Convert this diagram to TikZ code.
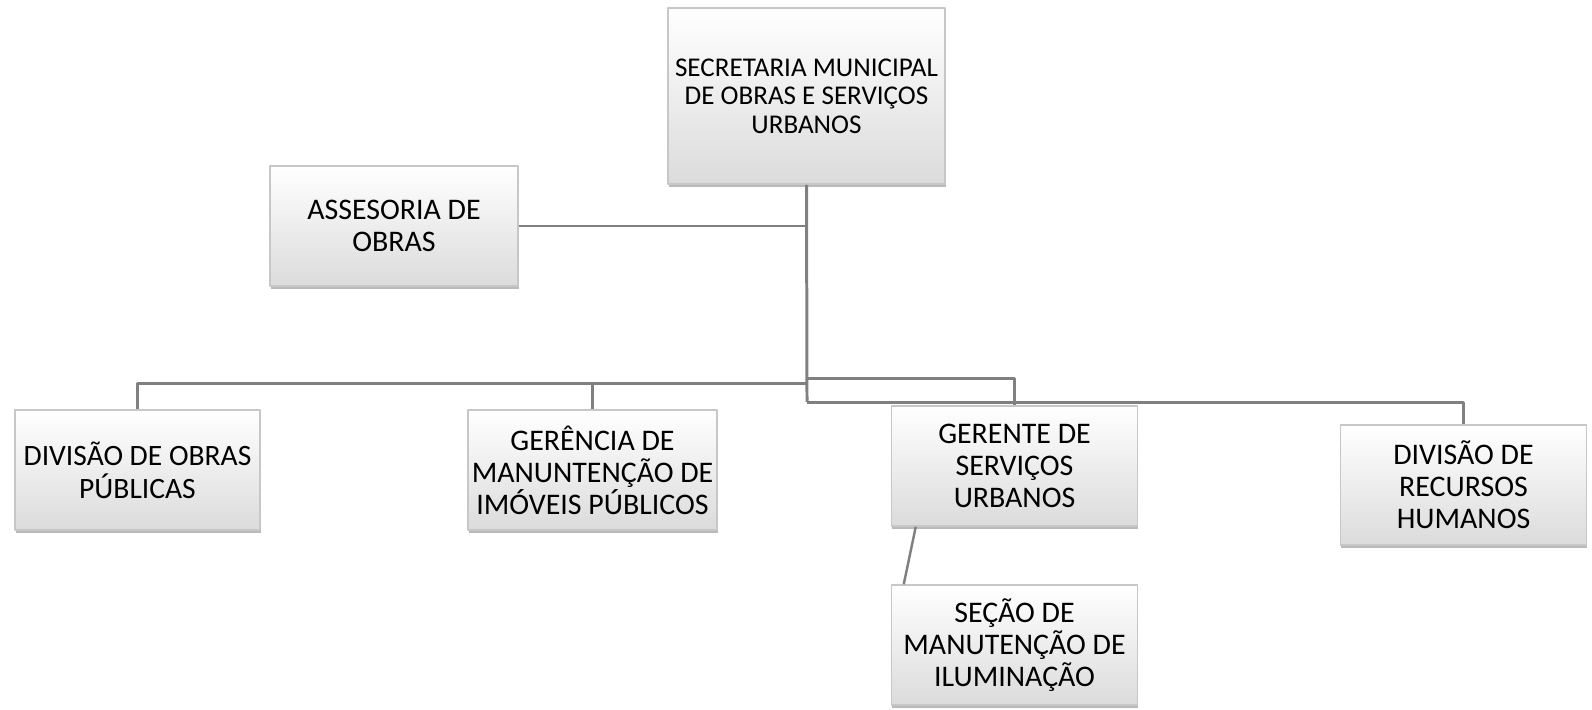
\documentclass[tikz,border=0pt]{standalone}
\usepackage{fontspec}
\setmainfont{Carlito}
\usepackage{tikz}
\usetikzlibrary{shadows}

\begin{document}
\begin{tikzpicture}[line cap=round,line join=round,x=0.01cm,y=-0.01cm,
  caixa/.style={draw=black!22,line width=0.4pt,top color=white,bottom color=black!14,
    drop shadow={shadow xshift=0.2pt,shadow yshift=-0.9pt,fill=black!45,opacity=0.6},
    minimum width=2.46cm,minimum height=1.2cm,align=center,inner sep=1pt,
    font=\fontsize{8.5}{9.1}\selectfont},
  linha/.style={draw=black!50,line width=0.85pt,line cap=butt}]
\useasboundingbox (0,0) rectangle (1592,709);
\node[caixa,minimum width=2.77cm,minimum height=1.76cm,font=\fontsize{7.7}{8.1}\selectfont] (sec) at (806.5,96) {SECRETARIA MUNICIPAL\\DE OBRAS E SERVIÇOS\\URBANOS};
\node[caixa,minimum width=2.48cm] (ass) at (394,226) {ASSESORIA DE\\OBRAS};
\node[caixa,minimum width=2.45cm,font=\fontsize{8.4}{9.3}\selectfont] (dop) at (137.5,470) {DIVISÃO DE OBRAS\\PÚBLICAS};
\node[caixa,minimum width=2.49cm] (ger) at (592.5,470) {GERÊNCIA DE\\MANUNTENÇÃO DE\\IMÓVEIS PÚBLICOS};
\node[caixa] (gsu) at (1014.5,466) {GERENTE DE\\SERVIÇOS\\URBANOS};
\node[caixa] (drh) at (1463.5,485) {DIVISÃO DE\\RECURSOS\\HUMANOS};
\node[caixa] (sma) at (1014.5,645) {SEÇÃO DE\\MANUTENÇÃO DE\\ILUMINAÇÃO};
\coordinate (ja) at (807,383);
\coordinate (jb) at (807,402);
\coordinate (jc) at (807,378);
\draw[linha] (sec.south) -- (jb);
\draw[linha] (ass.east) -- (sec.south |- ass.east);
\draw[linha] (dop.north) |- (ja);
\draw[linha] (ger.north) -- (ger.north |- ja);
\draw[linha] (jc) -| (gsu.north);
\draw[linha] (jb) -| (drh.north);
\draw[linha,line width=0.7pt] ([xshift=0.25cm]gsu.south west) -- ([xshift=0.13cm]sma.north west);
\end{tikzpicture}
\end{document}
